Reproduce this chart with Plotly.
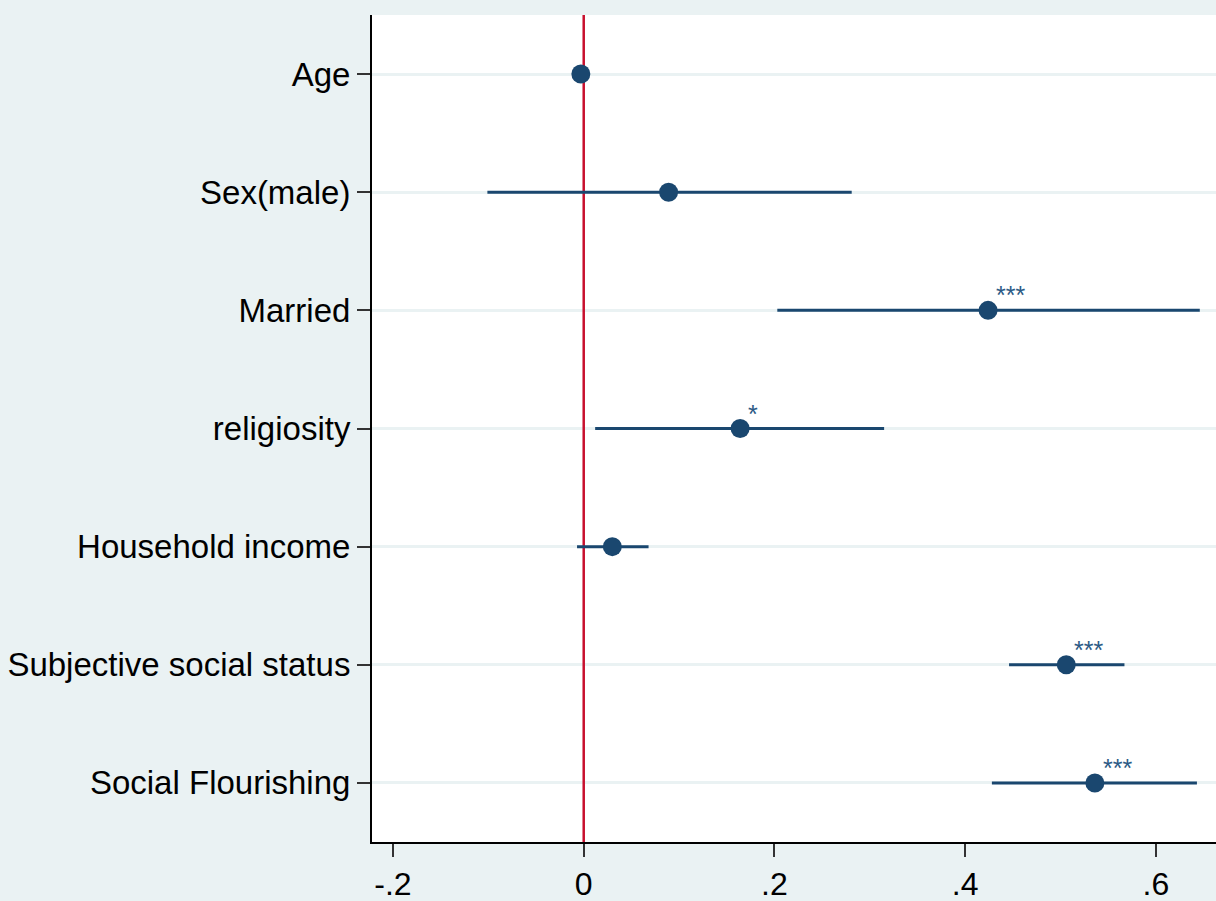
import plotly.graph_objects as go

# Coefficient estimates with 95% confidence intervals
variables = ["Age", "Sex(male)", "Married", "religiosity", "Household income",
             "Subjective social status", "Social Flourishing"]
coef = [-0.003, 0.089, 0.424, 0.164, 0.030, 0.506, 0.536]
ci_low = [-0.006, -0.101, 0.203, 0.012, -0.007, 0.446, 0.428]
ci_high = [0.000, 0.281, 0.646, 0.315, 0.068, 0.567, 0.643]
stars = ["", "", "***", "*", "", "***", "***"]

x_ticks = [-0.2, 0, 0.2, 0.4, 0.6]
x_tick_text = ["-.2", "0", ".2", ".4", ".6"]

navy = "#1a476f"
bg = "#eaf2f3"
pos = list(range(len(variables)))
y_range = [len(variables) - 0.5, -0.5]

fig = go.Figure()

# reference line at zero (drawn as a trace so it sits above the gridlines)
fig.add_trace(go.Scatter(
    x=[0, 0], y=y_range, mode="lines",
    line=dict(color="#c8102e", width=2.5), showlegend=False, hoverinfo="skip"))

# confidence interval segments
for i in pos:
    fig.add_trace(go.Scatter(
        x=[ci_low[i], ci_high[i]], y=[i, i], mode="lines",
        line=dict(color=navy, width=3), showlegend=False, hoverinfo="skip"))

# point estimates
fig.add_trace(go.Scatter(
    x=coef, y=pos, mode="markers",
    marker=dict(color=navy, size=19, line=dict(width=0)),
    showlegend=False))

# significance stars
for i in pos:
    if stars[i]:
        fig.add_annotation(
            x=coef[i], y=i, text=stars[i], showarrow=False,
            xanchor="left", yanchor="middle", xshift=6, yshift=15,
            font=dict(family="Liberation Sans, Arial", size=25, color="#2c5a85"))

fig.update_layout(
    width=1216, height=901,
    margin=dict(l=372, r=0, t=15, b=59),
    paper_bgcolor=bg, plot_bgcolor="white",
    font=dict(family="Liberation Sans, Arial", size=32, color="black"),
    xaxis=dict(range=[-0.222, 0.663], tickvals=x_ticks, ticktext=x_tick_text,
               showgrid=False, zeroline=False, showline=True,
               linecolor="black", linewidth=2,
               ticks="outside", ticklen=13, tickwidth=2, tickcolor="#333333",
               tickfont=dict(size=32)),
    yaxis=dict(range=y_range, tickvals=pos, ticktext=variables,
               showgrid=True, gridcolor=bg, gridwidth=3, zeroline=False,
               showline=True, linecolor="black", linewidth=2,
               ticks="outside", ticklen=13, tickwidth=2, tickcolor="#333333",
               tickfont=dict(size=33)),
)

fig.write_html("out.html")
